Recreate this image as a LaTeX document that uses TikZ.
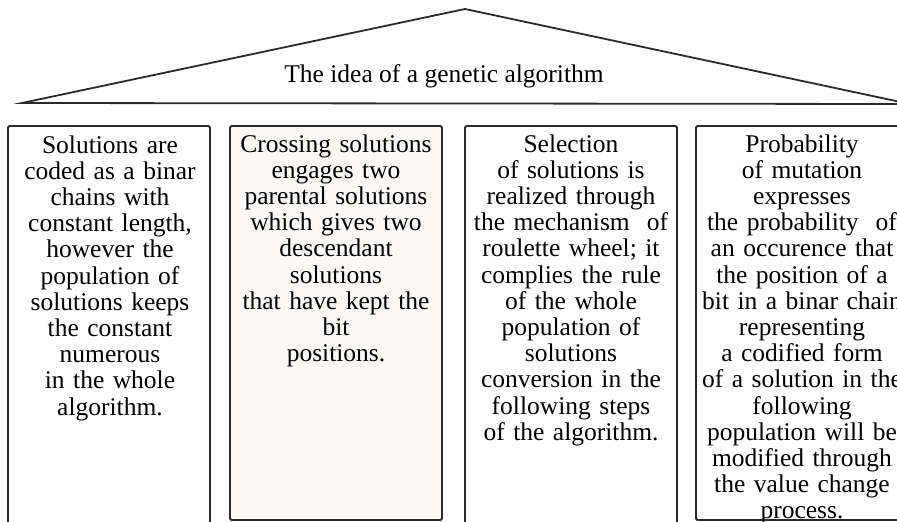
\documentclass[tikz,border=0pt]{standalone}
\usepackage{fontspec}
\setmainfont{Liberation Serif}
\definecolor{linegray}{HTML}{2A2A2A}
\definecolor{paper}{HTML}{FAF9F8}
\tikzset{
  pillar/.style={draw=linegray, line width=1.8pt, rounded corners=1.5pt},
  roofline/.style={draw=linegray, line width=1.8pt, line join=miter},
  pillartext/.style={anchor=base, inner sep=0pt, text width=280pt, align=center,
    font=\fontsize{25.5}{26.2}\selectfont},
  rooftext/.style={anchor=base, inner sep=0pt, font=\fontsize{25.5}{26.2}\selectfont}
}
\begin{document}
\begin{tikzpicture}[x=1pt,y=-1pt]
\clip (0,0) rectangle (897,522);
\fill[white] (0,0) rectangle (897,522);
% roof
\coordinate (apex) at (465,9);
\coordinate (eaveL) at (22,103);
\coordinate (eaveR) at (910,104);
\draw[roofline] (eaveL) -- (apex) -- (eaveR) -- cycle;
\node[rooftext] (title) at (444,82) {The idea of a genetic algorithm};
% pillars
\draw[pillar] (8,126) rectangle (210,540);
\draw[pillar, fill=paper] (230,126) rectangle (442,520);
\draw[pillar] (465,126) rectangle (677,540);
\draw[pillar] (696,126) rectangle (910,520);
\node[pillartext] (t1) at (110,153) {Solutions are\\coded as a binar\\chains with\\constant length,\\however the\\population of\\solutions keeps\\the constant\\numerous\\in the whole\\algorithm.};
\node[pillartext] (t2) at (336,152) {Crossing solutions\\engages two\\parental solutions\\which gives two\\descendant\\solutions\\that have kept the\\bit\\positions.};
\node[pillartext] (t3) at (571,152) {Selection\\of solutions is\\realized through\\the mechanism\ \ of\\roulette wheel; it\\complies the rule\\of the whole\\population of\\solutions\\conversion in the\\following steps\\of the algorithm.};
\node[pillartext] (t4) at (802,152) {Probability\\of mutation\\expresses\\the probability\ \ of\\an occurence that\\the position of a\\bit in a binar chain\\representing\\a codified form\\of a solution in the\\following\\population will be\\modified through\\the value change\\process.};
\end{tikzpicture}
\end{document}
